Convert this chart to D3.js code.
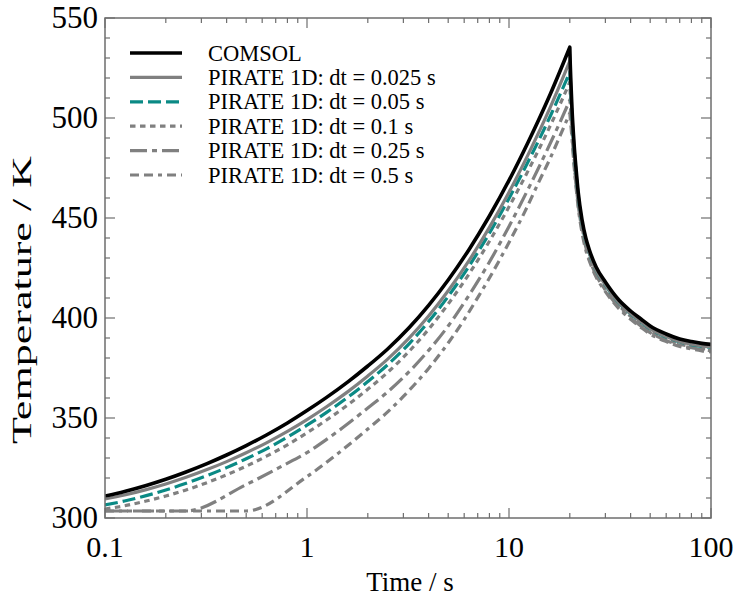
<!DOCTYPE html>
<html><head><meta charset="utf-8">
<script src="https://cdn.jsdelivr.net/npm/d3@7"></script>
<style>body{margin:0;background:#fff}svg{display:block}text{font-family:"Liberation Serif","Times New Roman",serif}</style>
</head><body><svg id="c" width="735" height="601"></svg>
<script>
// ---- data ----
const seriesNames = ["COMSOL","PIRATE 1D: dt = 0.025 s","PIRATE 1D: dt = 0.05 s","PIRATE 1D: dt = 0.1 s","PIRATE 1D: dt = 0.25 s","PIRATE 1D: dt = 0.5 s"];
// time grid shared by COMSOL and the three finest PIRATE runs
const fineTimes = [0.1,0.125,0.16,0.2,0.25,0.32,0.4,0.5,0.63,0.8,1,1.25,1.6,2,2.5,3.2,4,5,6.3,8,10,12.5,16,20,
  20.1,20.25,20.5,21,21.5,22,23,24,25,27,30,35,40,45,50,60,70,80,90,100];
const comsolT = [311.0,313.3,316.3,319.4,322.9,327.2,331.5,336.2,341.5,347.5,353.7,360.3,368.2,376.0,384.4,395.1,406.3,419.0,433.8,451.0,468.8,488.4,511.9,535.4,
  527,518,505,487,474,463,449,440,434,425.5,418,409,403.5,399.5,396,392,389.5,388.2,387.3,386.8];
const dt025T = [309.5,311.5,314.2,317.0,320.2,324.2,328.2,332.6,337.6,343.3,349.2,355.6,363.3,371.0,379.3,389.9,401.0,413.6,428.3,445.3,462.9,482.2,505.3,528.4,
  522,514,502,485,472.5,461.5,447.5,438.5,432.5,424,416.7,407.7,402.2,398.2,394.7,390.7,388.2,386.9,386.0,385.5];
const dt05T = [306.5,308.5,311.2,314.0,317.2,321.2,325.2,329.6,334.6,340.4,346.4,352.8,360.5,368.2,376.5,387.1,398.2,410.8,425.5,442.4,459.8,478.6,500.9,522.9,
  518,511,500,484,472,461,447.2,438.3,432.3,423.8,416.5,407.5,402,398,394.5,390.5,388,386.7,385.8,385.3];
const dt1T = [304.5,306.1,308.5,311.0,313.9,317.7,321.6,325.9,330.9,336.6,342.6,349.0,356.7,364.4,372.7,383.3,394.4,407.0,421.6,438.4,455.6,474.1,496.1,517.9,
  512,506,495,480,468.5,459,445.5,436.5,430.5,422.5,415,406.2,400.8,396.8,393.4,389.4,387,385.7,384.8,384.3];
const dt25Times = [0.1,0.25,0.5,0.75,1,1.25,1.5,2,2.5,3,4,5,6,8,10,12.5,15,17.5,20,
  20.25,20.5,21,21.5,22,23,24,25,27,30,35,40,45,50,60,70,80,90,100];
const dt25T = [303.5,303.5,316.7,325.9,332.7,339.3,345.1,355.0,362.9,370.3,383.8,396.0,407.7,428.0,445.8,464.9,481.3,495.8,508.9,
  503,493,478,466.5,457,444,435.5,429.5,421.5,414,405.5,400,396,392.7,388.8,386.4,385.1,384.2,383.7];
const dt5Times = [0.1,0.5,1,1.5,2,2.5,3,4,5,6,7,8,10,12,14,16,18,20,
  20.5,21,21.5,22,23,24,25,27,30,35,40,45,50,60,70,80,90,100];
const dt5T = [303.5,303.5,320.7,334.1,344.5,352.9,360.8,374.8,387.5,399.2,410.2,420.0,437.8,453.3,467.7,479.9,491.7,502.4,
  490,476,465,455.5,442.5,434,428.5,420.5,413.2,404.7,399.3,395.3,392,388.2,385.8,384.5,383.6,383.1];
const xTickLabels = ["0.1","1","10","100"];
const yTickValues = [300,350,400,450,500,550];
const peakTime = 20;

const colors = ["#000000","#808080","#0b8a85","#808080","#808080","#808080"];
const widths = [3.6,3.2,3.2,3.2,3.2,3.2];
const dashes = [null,null,"13,5","5.5,4.5","17,5,5,5","9,5,9,5,4,5"];

const svg = d3.select("#c");
const L = 105, R = 711, T = 18, B = 518;
const x = d3.scaleLog().domain([0.1,100]).range([L,R]);
const y = d3.scaleLinear().domain([300,550]).range([B,T]);

const zip = (ts, vs) => ts.map((t,i)=>({t, v: vs[i]}));
const series = [
  zip(fineTimes, comsolT), zip(fineTimes, dt025T), zip(fineTimes, dt05T), zip(fineTimes, dt1T),
  zip(dt25Times, dt25T), zip(dt5Times, dt5T)
];

svg.append("defs").append("clipPath").attr("id","clip")
  .append("rect").attr("x",L).attr("y",T).attr("width",R-L).attr("height",B-T);

const line = d3.line().x(d=>x(d.t)).y(d=>y(d.v)).curve(d3.curveMonotoneX);
// heating and cooling branches are smoothed separately so the peak stays a sharp cusp
const pathD = s => {
  const heat = s.filter(d=>d.t<=peakTime), cool = s.filter(d=>d.t>=peakTime);
  return line(heat) + line(cool).replace(/^M[^A-Za-z]*/,"");
};
const g = svg.append("g").attr("clip-path","url(#clip)");
for (let i = series.length-1; i >= 0; i--) {
  g.append("path").attr("d",pathD(series[i]))
    .attr("fill","none").attr("stroke",colors[i]).attr("stroke-width",widths[i])
    .attr("stroke-dasharray",dashes[i]).attr("stroke-linejoin","miter").attr("stroke-miterlimit",10);
}

// frame & ticks
const axisColor = "#6e6e6e";
const major = 10, minor = 5;
const xMinor = [];
[0.1,1,10].forEach(d=>{for(let k=2;k<=9;k++) xMinor.push(d*k);});
const yMinor = d3.range(300,551,10).filter(v=>v%50!==0);
const xMajor = xTickLabels.map(Number);
const tk = svg.append("g").attr("stroke",axisColor).attr("stroke-width",1.2);
xMajor.forEach(v=>{tk.append("line").attr("x1",x(v)).attr("x2",x(v)).attr("y1",B).attr("y2",B-major);
  tk.append("line").attr("x1",x(v)).attr("x2",x(v)).attr("y1",T).attr("y2",T+major);});
xMinor.forEach(v=>{tk.append("line").attr("x1",x(v)).attr("x2",x(v)).attr("y1",B).attr("y2",B-minor);
  tk.append("line").attr("x1",x(v)).attr("x2",x(v)).attr("y1",T).attr("y2",T+minor);});
yTickValues.forEach(v=>{tk.append("line").attr("x1",L).attr("x2",L+major).attr("y1",y(v)).attr("y2",y(v));
  tk.append("line").attr("x1",R).attr("x2",R-major).attr("y1",y(v)).attr("y2",y(v));});
yMinor.forEach(v=>{tk.append("line").attr("x1",L).attr("x2",L+minor).attr("y1",y(v)).attr("y2",y(v));
  tk.append("line").attr("x1",R).attr("x2",R-minor).attr("y1",y(v)).attr("y2",y(v));});
svg.append("rect").attr("x",L).attr("y",T).attr("width",R-L).attr("height",B-T)
  .attr("fill","none").attr("stroke",axisColor).attr("stroke-width",1.5);

// tick labels
xMajor.forEach((v,i)=>svg.append("text").attr("x",x(v)).attr("y",B+39).attr("text-anchor","middle")
  .attr("font-size",30).text(xTickLabels[i]));
yTickValues.forEach(v=>svg.append("text").attr("x",L-7).attr("y",y(v)+10).attr("text-anchor","end")
  .attr("font-size",31).text(v));
svg.append("text").attr("x",(L+R)/2+2).attr("y",591).attr("text-anchor","middle").attr("font-size",27).text("Time / s");
svg.append("text").attr("transform",`translate(31,300) rotate(-90)`).attr("text-anchor","middle")
  .attr("font-size",27).attr("textLength",288).attr("lengthAdjust","spacingAndGlyphs").text("Temperature / K");

// legend
const lg = svg.append("g");
seriesNames.forEach((n,i)=>{
  const yy = 53 + i*24.4;
  lg.append("line").attr("x1",130).attr("x2",182).attr("y1",yy).attr("y2",yy)
    .attr("stroke",colors[i]).attr("stroke-width",widths[i]).attr("stroke-dasharray",dashes[i]);
  lg.append("text").attr("x",208).attr("y",yy+7.5).attr("font-size",22.5).text(n);
});
</script></body></html>
